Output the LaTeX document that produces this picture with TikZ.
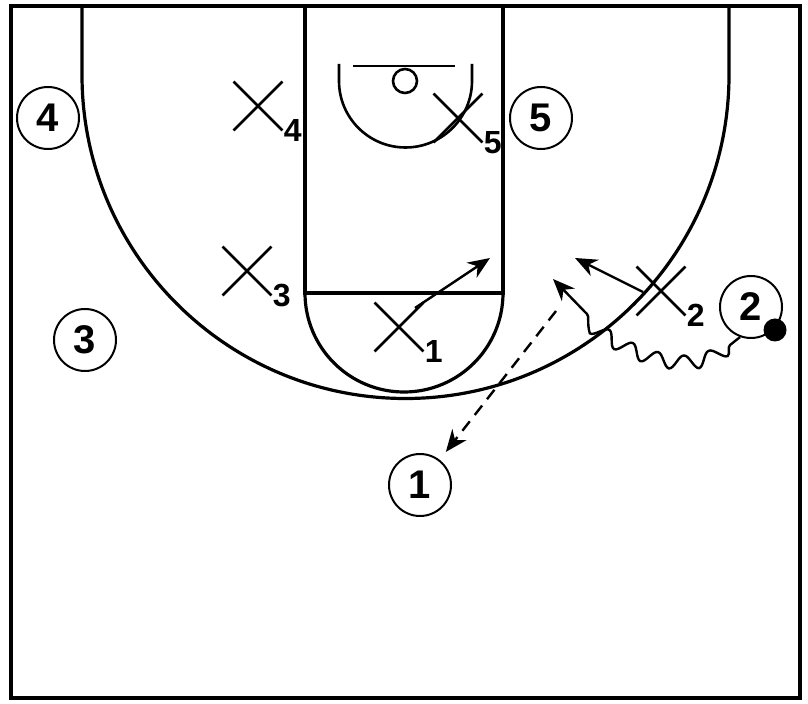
\documentclass[tikz,border=0pt]{standalone}
\usepackage{fontspec}
\setmainfont{Liberation Sans}
\usetikzlibrary{arrows.meta, shapes.misc, decorations.pathmorphing, calc}

\begin{document}
\begin{tikzpicture}[
    x=0.5pt, y=-0.5pt,
    court/.style={line width=1.6pt},
    rim/.style={line width=1.3pt},
    offense/.style={circle, draw, line width=1pt, minimum size=31pt, inner sep=0pt, font=\fontsize{20}{20}\selectfont\bfseries},
    defense/.style={cross out, draw, line width=1.4pt, minimum size=23pt, inner sep=0pt},
    numlab/.style={anchor=west, inner sep=0.5pt, font=\fontsize{16}{16}\selectfont\bfseries},
    ball/.style={circle, fill=black, minimum size=11.5pt, inner sep=0pt},
    move/.style={-{Stealth[length=11pt, width=9pt, inset=3.5pt]}, line width=1.2pt},
    pass/.style={move, dash pattern=on 6pt off 4pt},
    dribble/.style={decoration={snake, amplitude=3.5pt, segment length=14pt}}
]
\useasboundingbox (0,0) rectangle (808,704);

% Court
\draw[court, line width=2pt] (11,6) rectangle (800,698);
\draw[court] (82,6) -- (82,75) arc[start angle=180, end angle=0, radius=323.5] -- (729,6);
\draw[court] (305,6) -- (305,293) -- (503,293) -- (503,6);
\draw[court] (305,293) arc[start angle=180, end angle=0, radius=99];

% Basket
\draw[rim] (339,64) -- (339,81) arc[start angle=180, end angle=0, radius=66.5] -- (472,64);
\draw[rim] (353,66) -- (455,66);
\draw[rim] (405,81) circle[radius=12];

% Offense
\node[offense] (o1) at (420,485) {1};
\node[offense] (o2) at (751,307) {2};
\node[offense] (o3) at (85,340) {3};
\node[offense] (o4) at (48,118) {4};
\node[offense] (o5) at (541,118) {5};
\node[ball] (ball) at (775,330) {};

% Defense
\node[defense] (x1) at (399,327) {};
\node[defense] (x2) at (661,291) {};
\node[defense] (x3) at (247,271) {};
\node[defense] (x4) at (258,106) {};
\node[defense] (x5) at (458,118) {};
\node[numlab] at (x1.south east) {1};
\node[numlab] at (x2.south east) {2};
\node[numlab] at (x3.south east) {3};
\node[numlab] at (x4.south east) {4};
\node[numlab] at (x5.south east) {5};

% Movement
\coordinate (cut1) at (490,258);
\coordinate (cut2) at (575,258);
\coordinate (dr0) at (730,345);
\coordinate (dr1) at (585,312);
\coordinate (dr2) at (553,279);
\coordinate (ps0) at (556,311);

\draw[move] ($(x1)+(16,-19)$) -- (cut1);
\draw[move] ($(x2)+(-18,1)$) -- (cut2);
\draw[move] (o2.250) -- (dr0)
    decorate[dribble] {.. controls (700,370) and (640,360) .. (dr1)} -- (dr2);
\draw[pass, shorten >=5pt] (ps0) -- (o1);

\end{tikzpicture}
\end{document}
